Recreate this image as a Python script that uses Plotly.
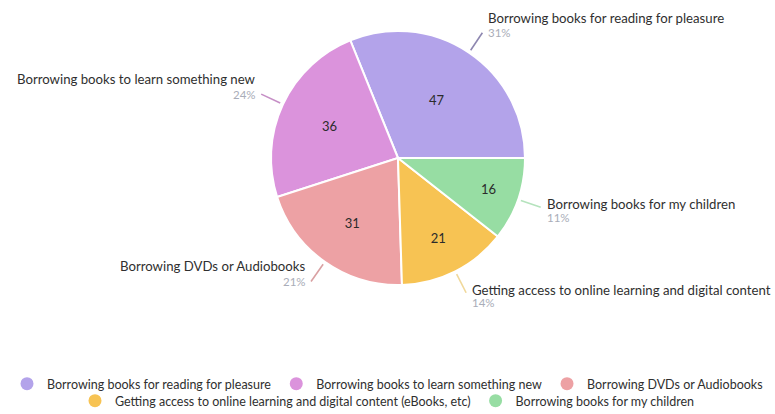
import math
import plotly.graph_objects as go

# ---- data ----
categories = [
    "Borrowing books for reading for pleasure",
    "Borrowing books to learn something new",
    "Borrowing DVDs or Audiobooks",
    "Getting access to online learning and digital content (eBooks, etc)",
    "Borrowing books for my children",
]
outer_labels = [
    "Borrowing books for reading for pleasure",
    "Borrowing books to learn something new",
    "Borrowing DVDs or Audiobooks",
    "Getting access to online learning and digital content",
    "Borrowing books for my children",
]
values = [47, 36, 31, 21, 16]
legend_rows = ["legend", "legend", "legend", "legend2", "legend2"]
colors = ["#b3a3ea", "#db93dc", "#eda1a4", "#f7c353", "#97dda3"]
line_colors = ["#8e87b0", "#c68fc6", "#d9a0a2", "#f0d89a", "#b5e3bd"]

W, H = 775, 414
CX, CY, R = 398, 158, 127  # pie centre / radius in pixels

dom_x = [(CX - R) / W, (CX + R) / W]
dom_y = [1 - (CY + R) / H, 1 - (CY - R) / H]

total = sum(values)
# first slice starts at 3 o'clock and runs counterclockwise
rotation = 90 - 360.0 * values[0] / total

fig = go.Figure()
fig.add_trace(go.Pie(
    labels=categories,
    values=values,
    sort=False,
    direction="counterclockwise",
    rotation=rotation,
    marker=dict(colors=colors, line=dict(color="white", width=2)),
    textinfo="value",
    textposition="inside",
    insidetextorientation="horizontal",
    textfont=dict(family="Lato", size=13, color="#2b2b2b"),
    showlegend=False,
    hoverinfo="label+value+percent",
    domain=dict(x=dom_x, y=dom_y),
))

# legend entries with round markers
for cat, col, lg in zip(categories, colors, legend_rows):
    fig.add_trace(go.Scatter(
        x=[None], y=[None], mode="markers", name=cat,
        marker=dict(symbol="circle", size=13, color=col),
        showlegend=True, legend=lg,
    ))

shapes = []
annotations = []
cum = 0.0
for lab, v, lc in zip(outer_labels, values, line_colors):
    mid = (cum + v / 2) / total * 360.0  # counterclockwise from 3 o'clock
    cum += v
    a = math.radians(mid)
    c, s = math.cos(a), math.sin(a)
    x0, y0 = CX + (R + 3) * c, CY - (R + 3) * s
    x1, y1 = CX + (R + 24) * c, CY - (R + 24) * s
    shapes.append(dict(type="line", xref="paper", yref="paper",
                       x0=x0 / W, y0=1 - y0 / H, x1=x1 / W, y1=1 - y1 / H,
                       line=dict(color=lc, width=1.6)))
    right = c > 0
    below = right and s < 0
    tx = x1 + (4 if right else -3)
    if below:
        name_y = y1 - 3
        pct_y = y1 + 10
    else:
        name_y = y1 - 15
        pct_y = y1
    anchor = "left" if right else "right"
    pct = round(v / total * 100)
    annotations.append(dict(xref="paper", yref="paper", x=tx / W, y=1 - name_y / H,
                            text=lab, showarrow=False, xanchor=anchor, yanchor="middle",
                            font=dict(family="Lato", size=13.2, color="#2f2f2f")))
    annotations.append(dict(xref="paper", yref="paper", x=tx / W, y=1 - pct_y / H,
                            text=f"{pct}%", showarrow=False, xanchor=anchor, yanchor="middle",
                            font=dict(family="Lato", size=11.5, color="#a9adb8")))

legend_style = dict(
    orientation="h", x=0.5, xanchor="center", yanchor="top",
    font=dict(family="Lato", size=12.5, color="#2f2f2f"),
    itemwidth=30, bgcolor="rgba(0,0,0,0)",
)

fig.update_layout(
    width=W, height=H,
    margin=dict(l=0, r=0, t=0, b=0, autoexpand=False),
    paper_bgcolor="white",
    plot_bgcolor="white",
    xaxis=dict(visible=False),
    yaxis=dict(visible=False),
    shapes=shapes,
    annotations=annotations,
    legend=dict(y=1 - 369 / H, **legend_style),
    legend2=dict(y=1 - 386 / H, **legend_style),
)

fig.write_html("out.html", config={"displayModeBar": False},
               post_script="document.body.style.margin='0px';")
